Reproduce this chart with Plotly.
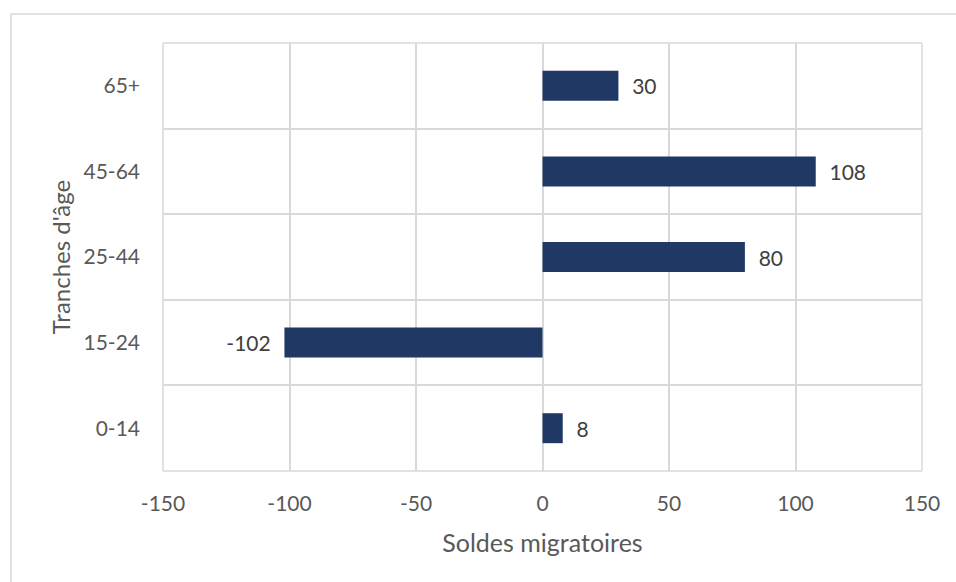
import plotly.graph_objects as go

categories = ["0-14", "15-24", "25-44", "45-64", "65+"]
values = [8, -102, 80, 108, 30]
x_ticks = [-150, -100, -50, 0, 50, 100, 150]

BAR = "#1F3864"
GRID = "#D9D9D9"
FONT = "Lato"

labels = [("\u00a0\u00a0" + str(v)) if v >= 0 else (str(v) + "\u00a0\u00a0") for v in values]

fig = go.Figure(go.Bar(
    x=values, y=categories, orientation="h",
    marker=dict(color=BAR, line=dict(width=0)),
    text=labels, textposition="outside", cliponaxis=False,
    textfont=dict(family=FONT, size=21, color="#404040"),
    width=0.35,
))

fig.update_layout(
    width=956, height=582,
    margin=dict(l=163, r=34, t=43, b=111),
    paper_bgcolor="white", plot_bgcolor="white",
    showlegend=False,
    font=dict(family=FONT, size=21, color="#595959"),
    xaxis=dict(
        range=[-150, 150], tickvals=x_ticks, ticktext=[str(t) for t in x_ticks],
        showgrid=True, gridcolor=GRID, gridwidth=1.5, zeroline=False,
        showline=False, ticks="", ticklabelstandoff=18,
        title=dict(text="Soldes migratoires", standoff=20,
                   font=dict(family=FONT, size=25, color="#595959")),
        tickfont=dict(family=FONT, size=21, color="#595959"),
    ),
    yaxis=dict(
        type="category", categoryorder="array", categoryarray=categories,
        tickson="boundaries", showgrid=True, gridcolor=GRID, gridwidth=1.5,
        zeroline=False, showline=False, ticks="", ticklabelstandoff=22,
        title=dict(text="Tranches d'âge", standoff=6,
                   font=dict(family=FONT, size=24, color="#595959")),
        tickfont=dict(family=FONT, size=21, color="#595959"),
    ),
    shapes=[
        dict(type="rect", xref="paper", yref="paper",
             x0=(11 - 163) / 759, x1=(965 - 163) / 759,
             y0=-(600 - 471) / 428, y1=1 + (43 - 14) / 428,
             line=dict(color=GRID, width=1.5), layer="below"),
        dict(type="line", xref="paper", yref="paper",
             x0=1, x1=1, y0=0, y1=1, line=dict(color=GRID, width=1.5)),
        dict(type="line", xref="paper", yref="paper",
             x0=0, x1=1, y0=1, y1=1, line=dict(color=GRID, width=1.5)),
        dict(type="line", xref="paper", yref="paper",
             x0=0, x1=1, y0=0, y1=0, line=dict(color=GRID, width=1.5)),
        dict(type="line", xref="paper", yref="paper",
             x0=0, x1=0, y0=0, y1=1, line=dict(color=GRID, width=1.5)),
    ],
)

fig.write_html("out.html", config={"displayModeBar": False},
               post_script="document.body.style.margin='0';")
